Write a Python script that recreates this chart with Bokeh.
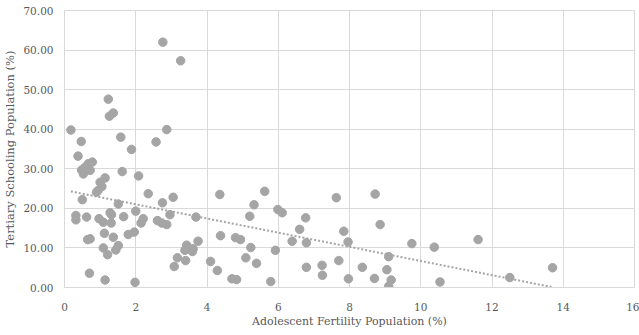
from bokeh.plotting import figure
from bokeh.models import ColumnDataSource, NumeralTickFormatter, FixedTicker, Range1d
from bokeh.embed import file_html
from bokeh.resources import INLINE

fertility = [0.18, 0.47, 0.38, 0.78, 0.67, 0.58, 0.48, 0.72, 0.53, 1.23, 1.37, 1.26, 1.58, 2.87, 2.57,
             1.88, 2.76, 3.26, 1.62, 2.08, 1.14, 1.00, 1.05, 0.94, 0.90, 2.35, 3.05, 0.50, 2.75, 1.51,
             2.00, 1.28, 1.32, 2.96, 3.69, 0.32, 0.32, 0.62, 1.66, 0.97, 1.09, 1.31, 2.21, 2.15, 2.61,
             2.73, 2.87, 1.12, 1.79, 1.96, 1.37, 0.72, 0.65, 3.75, 3.43, 3.38, 3.61, 3.59, 1.09, 1.51,
             1.44, 1.21, 3.17, 3.40, 3.08, 4.10, 4.29, 0.70, 1.14, 1.98, 4.36, 5.62, 5.32, 5.20, 4.38,
             4.80, 4.94, 5.23, 5.09, 5.39, 4.70, 4.83, 5.79, 7.63, 5.99, 6.11, 6.77, 6.60, 7.84, 6.39,
             6.79, 7.96, 5.92, 7.70, 6.79, 7.23, 7.24, 8.36, 7.97, 8.72, 8.86, 9.75, 10.38, 9.10, 9.05,
             8.70, 9.17, 9.10, 10.54, 11.61, 12.50, 13.70]
schooling = [39.8, 36.9, 33.2, 31.7, 31.3, 30.4, 29.7, 29.6, 28.7, 47.6, 44.1, 43.3, 38.0, 39.9, 36.8,
             34.9, 62.0, 57.3, 29.3, 28.2, 27.7, 26.6, 25.5, 24.5, 24.1, 23.7, 22.8, 22.2, 21.4, 21.1,
             19.3, 18.9, 18.4, 18.4, 17.8, 18.2, 17.1, 17.8, 17.9, 17.4, 16.5, 16.3, 17.4, 16.3, 16.9,
             16.3, 15.9, 13.7, 13.4, 14.0, 12.7, 12.3, 12.1, 11.7, 10.7, 9.4, 9.8, 9.1, 10.0, 10.6,
             9.5, 8.3, 7.5, 6.8, 5.3, 6.6, 4.3, 3.6, 1.9, 1.3, 23.5, 24.3, 20.9, 18.0, 13.1,
             12.6, 12.1, 10.1, 7.5, 6.1, 2.2, 2.0, 1.5, 22.7, 19.7, 18.9, 17.6, 14.7, 14.2, 11.7,
             11.3, 11.5, 9.4, 6.8, 5.1, 5.6, 3.1, 5.1, 2.2, 23.6, 15.9, 11.1, 10.2, 7.8, 4.5,
             2.3, 1.9, 0.3, 1.4, 12.1, 2.5, 5.0]

# linear trendline
trend_intercept = 24.6
trend_slope = -1.79

x_ticks = [0, 2, 4, 6, 8, 10, 12, 14, 16]
y_ticks = [0, 10, 20, 30, 40, 50, 60, 70]

FONT = "DejaVu Serif"
TXT = "#595959"
GRID = "#D9D9D9"

p = figure(width=639, height=335, output_backend="svg", toolbar_location=None,
           x_range=Range1d(0, 16), y_range=Range1d(0, 70),
           min_border_left=63, min_border_right=5, min_border_top=10, min_border_bottom=48)
p.background_fill_color = "white"
p.border_fill_color = "white"
p.outline_line_color = GRID
p.outline_line_width = 1

tx = [min(fertility), max(fertility)]
ty = [trend_intercept + trend_slope * v for v in tx]
p.line(tx, ty, line_color="#A5A5A5", line_width=2, line_dash="2 2")

src = ColumnDataSource(dict(x=fertility, y=schooling))
p.scatter("x", "y", source=src, size=8.5, fill_color="#A5A5A5", line_color="#A5A5A5")

p.xaxis.ticker = FixedTicker(ticks=x_ticks)
p.yaxis.ticker = FixedTicker(ticks=y_ticks)
p.yaxis.formatter = NumeralTickFormatter(format="0.00")
p.xgrid.ticker = FixedTicker(ticks=x_ticks)
p.ygrid.ticker = FixedTicker(ticks=y_ticks)
p.grid.grid_line_color = GRID
p.grid.grid_line_width = 1

for ax in (p.xaxis, p.yaxis):
    ax.axis_line_color = GRID
    ax.major_tick_line_color = None
    ax.minor_tick_line_color = None
    ax.major_label_text_font = FONT
    ax.major_label_text_font_size = "10.5px"
    ax.major_label_text_color = TXT
    ax.axis_label_text_font = FONT
    ax.axis_label_text_color = TXT
    ax.axis_label_text_font_style = "normal"

p.xaxis.axis_label_text_font_size = "11px"
p.yaxis.axis_label_text_font_size = "11.5px"
p.xaxis.axis_label = "Adolescent Fertility Population (%)"
p.yaxis.axis_label = "Tertiary Schooling Population (%)"
p.xaxis.major_label_standoff = 9
p.yaxis.major_label_standoff = 5
p.xaxis.axis_label_standoff = 1
p.yaxis.axis_label_standoff = 3

open("out.html", "w").write(file_html(p, INLINE))
